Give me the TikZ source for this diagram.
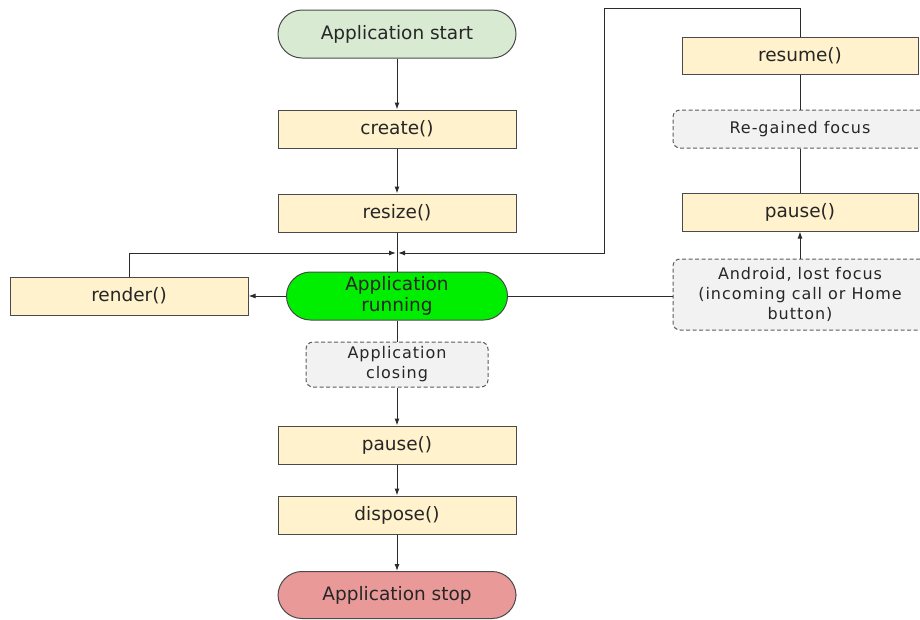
\documentclass[tikz,border=0pt]{standalone}
\usepackage{fontspec}
\setmainfont{DejaVu Sans}
\newfontfamily\notefont[LetterSpace=6]{DejaVu Sans}
\usetikzlibrary{arrows.meta}
\definecolor{boxfill}{HTML}{FFF2CC}
\definecolor{startfill}{HTML}{D9EAD3}
\definecolor{runfill}{HTML}{00EE00}
\definecolor{stopfill}{HTML}{EA9999}
\definecolor{notefill}{HTML}{F2F2F2}
\definecolor{edge}{HTML}{4A4A4A}
\definecolor{wire}{HTML}{2B2B2B}
\tikzset{
  base/.style={draw=edge, line width=1pt, inner sep=0pt, align=center,
    font=\fontsize{18.5}{22}\selectfont, text=black!85},
  stepbox/.style={base, fill=boxfill, minimum width=238pt, minimum height=38pt},
  terminal/.style={base, minimum width=238pt, minimum height=48pt, rounded corners=24pt},
  note/.style={base, draw=edge!90, dashed, dash pattern=on 4pt off 2.5pt, fill=notefill,
    rounded corners=7pt, font=\notefont\fontsize{16}{20}\selectfont},
  link/.style={draw=wire, line width=1pt},
  arr/.style={link, -{Latex[length=7pt,width=5pt]}},
}
\begin{document}
\begin{tikzpicture}[x=1pt, y=-1pt]
\useasboundingbox (0,0) rectangle (920,619);

% main column
\node[terminal, fill=startfill] (start) at (397,34) {Application start};
\node[stepbox] (create) at (397,129) {create()};
\node[stepbox] (resize) at (397,213) {resize()};
\node[terminal, fill=runfill, minimum width=221pt] (running) at (397,296) {Application\\[-1pt]running};
\node[stepbox] (render) at (129,296) {render()};
\node[note, minimum width=182pt, minimum height=45pt] (closing) at (397,364.5) {Application\\closing};
\node[stepbox] (pause) at (397,445) {pause()};
\node[stepbox] (dispose) at (397,515) {dispose()};
\node[terminal, fill=stopfill, minimum height=47pt] (stop) at (397,595) {Application stop};

% right column
\node[stepbox, minimum width=236pt, minimum height=37pt] (resume) at (800,55.5) {resume()};
\node[note, minimum width=254pt, minimum height=38pt] (regained) at (800,129) {Re-gained focus};
\node[stepbox, minimum width=236pt] (pauseR) at (800,212) {pause()};
\node[note, minimum width=254pt, minimum height=71pt] (lost) at (800,294.5) {Android, lost focus\\(incoming call or Home\\button)};

% junction above the running state
\coordinate (join) at (397,253);
\coordinate (loopcorner) at (604,8);

% connectors
\draw[arr] (start) -- (create);
\draw[arr] (create) -- (resize);
\draw[link] (resize) -- (running);
\draw[arr] (render.north) |- ([xshift=-1pt]join);
\draw[arr] (resume.north) |- (loopcorner) |- ([xshift=1pt]join);
\draw[arr] (running) -- (render);
\draw[link] (running) -- (running -| lost.west);
\draw[arr] (lost) -- (pauseR);
\draw[link] (pauseR) -- (regained);
\draw[link] (regained) -- (resume);
\draw[link] (running) -- (closing);
\draw[arr] (closing) -- (pause);
\draw[arr] (pause) -- (dispose);
\draw[arr] (dispose) -- (stop);
\end{tikzpicture}
\end{document}
